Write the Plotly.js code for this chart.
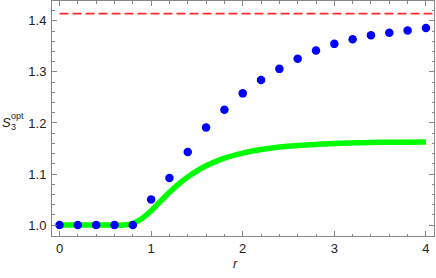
<!DOCTYPE html>
<html><head><meta charset="utf-8">
<script src="https://cdn.plot.ly/plotly-3.0.1.min.js"></script>
<style>html,body{margin:0;padding:0;background:#fff}#c{width:436px;height:278px}</style>
</head><body><div id="c"></div>
<script>
var rPts = [0,0.2,0.4,0.6,0.8,1.0,1.2,1.4,1.6,1.8,2.0,2.2,2.4,2.6,2.8,3.0,3.2,3.4,3.6,3.8,4.0];
var sPts = [1.0,1.0,1.0,1.0,1.0,1.050,1.092,1.143,1.191,1.226,1.258,1.284,1.306,1.326,1.342,1.355,1.364,1.372,1.377,1.381,1.386];
var rCurve = [0,0.2,0.4,0.6,0.7,0.8,0.9,1.0,1.1,1.2,1.3,1.4,1.5,1.6,1.8,2.0,2.2,2.4,2.6,2.8,3.0,3.25,3.5,3.75,4.0];
var sCurve = [1.0,1.0,1.0,1.0,1.0,1.003,1.013,1.028,1.046,1.064,1.080,1.094,1.106,1.116,1.131,1.141,1.148,1.153,1.156,1.158,1.160,1.161,1.162,1.162,1.1625];
var rBound = [0,4.1];
var sBound = [Math.SQRT2, Math.SQRT2];
var xTicks = [0,1,2,3,4];
var yTicks = [1.0,1.1,1.2,1.3,1.4];

var frame = '#888888';
var fnt = 'Liberation Sans, Arial, sans-serif';
var traces = [
  {x:rBound,y:sBound,mode:'lines',line:{color:'#ff2a2a',width:1.7,dash:'9px,4px'},hoverinfo:'skip'},
  {x:rCurve,y:sCurve,mode:'lines',line:{color:'#00ff00',width:5.5,shape:'spline'},hoverinfo:'skip'},
  {x:rPts,y:sPts,mode:'markers',marker:{color:'#0000ff',size:8.5},hoverinfo:'skip'}
];
var axCommon = {showgrid:false,zeroline:false,showline:true,linecolor:frame,linewidth:1,mirror:'allticks',
  ticks:'inside',ticklen:5,tickcolor:frame,tickwidth:1,
  tickfont:{family:fnt,size:13,color:'#222'}};
var layout = {
  width:436,height:278,margin:{l:52,r:2,t:1,b:42},
  paper_bgcolor:'#fff',plot_bgcolor:'#fff',showlegend:false,
  xaxis:Object.assign({},axCommon,{range:[-0.082,4.088],tickvals:xTicks,ticktext:xTicks.map(String),
    minor:{dtick:0.2,ticks:'inside',ticklen:2.5,tickcolor:frame,tickwidth:1}}),
  yaxis:Object.assign({},axCommon,{range:[0.9785,1.439],tickvals:yTicks,ticktext:yTicks.map(function(v){return v.toFixed(1);}),
    ticklabelstandoff:2,
    minor:{dtick:0.02,tick0:1.0,ticks:'inside',ticklen:2.5,tickcolor:frame,tickwidth:1}}),
  annotations:[
    {xref:'paper',yref:'paper',x:0.5,y:-0.115,yanchor:'middle',xanchor:'center',showarrow:false,
     xshift:-8,text:'<i>r</i>',font:{family:fnt,size:13,color:'#222'}},
    {xref:'paper',yref:'paper',x:0,y:0.485,xanchor:'left',yanchor:'middle',xshift:-52,showarrow:false,
     text:'<i>S</i>',font:{family:fnt,size:13,color:'#222'}},
    {xref:'paper',yref:'paper',x:0,y:0.485,xanchor:'left',yanchor:'middle',xshift:-43.5,yshift:6,showarrow:false,
     text:'opt',font:{family:fnt,size:9,color:'#222'}},
    {xref:'paper',yref:'paper',x:0,y:0.485,xanchor:'left',yanchor:'middle',xshift:-43.5,yshift:-5,showarrow:false,
     text:'3',font:{family:fnt,size:9,color:'#222'}}
  ]
};
Plotly.newPlot('c',traces,layout,{staticPlot:true,displayModeBar:false});
</script></body></html>
